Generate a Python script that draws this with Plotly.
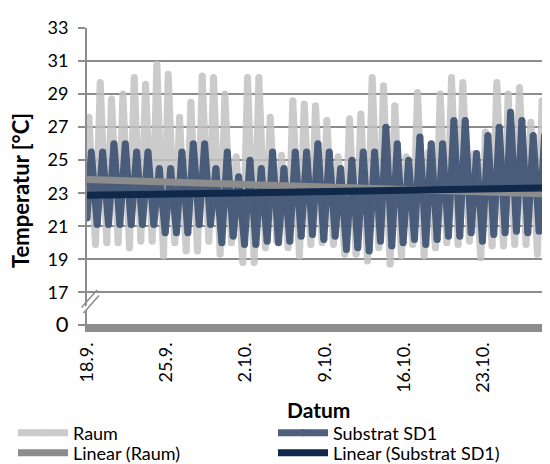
import plotly.graph_objects as go
import pandas as pd

# ---------------- data ----------------
start_date = "2013-09-18"
days = list(range(41))  # 18.9. ... 28.10.

# daily maxima / minima, one entry per day
raum_max = [27.6, 29.7, 28.7, 29.0, 30.0, 29.6, 30.8, 30.2, 27.6, 28.5,
            30.1, 30.0, 29.0, 25.2, 30.0, 30.0, 27.6, 25.3, 28.6, 28.4,
            28.3, 27.4, 25.2, 27.5, 27.8, 30.0, 29.5, 28.3, 25.2, 29.1,
            25.5, 29.0, 30.0, 29.7, 25.4, 26.7, 29.7, 29.0, 29.4, 27.3, 28.6]
raum_min = [19.9, 20.0, 20.0, 19.7, 20.1, 20.1, 19.2, 20.0, 19.5, 19.5,
            20.1, 19.3, 20.0, 18.8, 18.8, 19.7, 20.1, 19.7, 19.2, 19.9,
            20.0, 19.9, 19.3, 19.3, 18.9, 19.7, 18.7, 19.2, 19.9, 19.2,
            19.7, 20.0, 19.9, 20.1, 19.1, 19.8, 19.8, 19.9, 19.9, 19.3, 19.8]
sd1_max = [25.5, 25.5, 26.0, 26.0, 25.5, 25.5, 24.5, 24.5, 25.5, 26.0,
           26.0, 24.5, 25.5, 24.0, 25.0, 24.5, 25.5, 24.5, 25.5, 25.5,
           26.0, 25.5, 24.5, 25.0, 25.5, 25.5, 27.0, 26.0, 25.0, 26.4,
           26.0, 26.0, 27.4, 27.4, 25.4, 26.5, 27.0, 27.9, 27.4, 26.5, 26.5]
sd1_min = [21.1, 21.1, 21.1, 21.1, 21.1, 21.1, 20.6, 20.6, 20.6, 21.1,
           21.1, 20.0, 20.4, 19.9, 19.9, 20.1, 20.0, 20.1, 20.4, 20.5,
           20.2, 20.4, 19.6, 19.7, 19.5, 20.1, 19.8, 20.0, 20.2, 19.9,
           20.2, 20.4, 20.4, 20.6, 20.1, 20.5, 20.6, 20.7, 20.6, 20.7, 20.7]
raum_first = 27.5
sd1_first = 21.5

# time of day (hours) at which the daily extremes occur
raum_peak_hour, raum_low_hour = 4.0, 18.0
sd1_peak_hour, sd1_low_hour = 9.1, 21.6

# linear trend lines (values at the start / end of the visible period)
trend_dates = ["2013-09-18 00:00", "2013-10-28 20:38"]
raum_trend = [23.83, 22.95]
sd1_trend = [22.87, 23.32]

tick_dates = ["2013-09-18", "2013-09-25", "2013-10-02",
              "2013-10-09", "2013-10-16", "2013-10-23"]
tick_labels = ["18.9.", "25.9.", "2.10.", "9.10.", "16.10.", "23.10."]
y_tickvals = [15, 17, 19, 21, 23, 25, 27, 29, 31, 33]
y_ticklabels = ['<span style="font-size:22px">0</span>', "17", "19", "21",
                "23", "25", "27", "29", "31", "33"]


def build(first, highs, lows, hi_h, lo_h):
    t0 = pd.Timestamp(start_date)
    xs, ys = [t0], [first]
    for d, hi, lo in zip(days, highs, lows):
        day = t0 + pd.Timedelta(days=d)
        xs += [day + pd.Timedelta(hours=hi_h), day + pd.Timedelta(hours=lo_h)]
        ys += [hi, lo]
    return xs, ys


raum_x, raum_y = build(raum_first, raum_max, raum_min, raum_peak_hour, raum_low_hour)
sd1_x, sd1_y = build(sd1_first, sd1_max, sd1_min, sd1_peak_hour, sd1_low_hour)

# ---------------- figure ----------------
FONT = "Lato, 'Open Sans', sans-serif"
GRID = "#8c8c8c"
RAUM_C = "#c2c2c2"
SD1_C = "#3f5374"
RAUM_T = "#8c8c8c"
SD1_T = "#10284a"
LW = 7

# the page body has an 8px margin; the figure is sized to fill the rest
OFF = 8
W, H = 550 - OFF, 464 - OFF
ML, MR, MT, MB = 87 - OFF, 0, 28 - OFF, 132
PW, PH = W - ML - MR, H - MT - MB


def px(xp):  # page pixel -> paper x
    return (xp - OFF - ML) / PW


def py(yp):  # page pixel -> paper y
    return (H - MB - (yp - OFF)) / PH


fig = go.Figure()
fig.add_trace(go.Scatter(x=raum_x, y=raum_y, name="Raum", mode="lines+markers",
                         opacity=0.85,
                         line=dict(color=RAUM_C, width=LW, simplify=False),
                         marker=dict(color=RAUM_C, size=LW, line=dict(width=0)),
                         legend="legend"))
fig.add_trace(go.Scatter(x=sd1_x, y=sd1_y, name="Substrat SD1", mode="lines+markers",
                         opacity=0.92,
                         line=dict(color=SD1_C, width=LW, simplify=False),
                         marker=dict(color=SD1_C, size=LW, line=dict(width=0)),
                         legend="legend2"))
fig.add_trace(go.Scatter(x=trend_dates, y=raum_trend, name="Linear (Raum)", mode="lines",
                         line=dict(color=RAUM_T, width=7), legend="legend3"))
fig.add_trace(go.Scatter(x=trend_dates, y=sd1_trend, name="Linear (Substrat SD1)", mode="lines",
                         line=dict(color=SD1_T, width=7), legend="legend4"))

shapes = [
    # thick bar at the "0" level (bottom of the broken axis)
    dict(type="rect", xref="paper", yref="y", x0=0, x1=1, y0=14.6, y1=15.08,
         fillcolor=GRID, line=dict(width=0), layer="above"),
    # white gap of the axis break
    dict(type="path", xref="paper", yref="paper",
         path=f"M {px(82.5)} {py(310)} L {px(98)} {py(292.5)} L {px(98)} {py(297.5)} L {px(82.5)} {py(315)} Z",
         fillcolor="white", line=dict(width=0), layer="above"),
    dict(type="line", xref="paper", yref="paper", x0=px(81.5), y0=py(307.5), x1=px(97), y1=py(290),
         line=dict(color=GRID, width=1.5), layer="above"),
    dict(type="line", xref="paper", yref="paper", x0=px(83.5), y0=py(313), x1=px(99), y1=py(295.5),
         line=dict(color=GRID, width=1.5), layer="above"),
]

annotations = [
    dict(text="<b>Temperatur [°C]</b>", textangle=-90, xref="paper", yref="paper",
         x=px(21), y=py(191), xanchor="center", yanchor="middle", showarrow=False,
         font=dict(family=FONT, size=22, color="#000")),
    dict(text="<b>Datum</b>", xref="paper", yref="paper", x=px(318), y=py(409),
         xanchor="center", yanchor="middle", showarrow=False,
         font=dict(family=FONT, size=21, color="#000")),
]

leg_common = dict(xanchor="left", yanchor="middle", itemwidth=50,
                  font=dict(family=FONT, size=18, color="#000"),
                  bgcolor="rgba(0,0,0,0)", borderwidth=0)

fig.update_layout(
    width=W, height=H,
    margin=dict(l=ML, r=MR, t=MT, b=MB, pad=0, autoexpand=False),
    paper_bgcolor="white", plot_bgcolor="white",
    font=dict(family=FONT, size=18, color="#000"),
    showlegend=True,
    legend=dict(x=px(13), y=py(433), **leg_common),
    legend2=dict(x=px(273), y=py(433), **leg_common),
    legend3=dict(x=px(13), y=py(453), **leg_common),
    legend4=dict(x=px(273), y=py(453), **leg_common),
    xaxis=dict(type="date", range=["2013-09-18 00:00", "2013-10-28 20:38"],
               tickmode="array", tickvals=tick_dates, ticktext=tick_labels,
               tickangle=-90, showgrid=False, showline=False, ticks="",
               zeroline=False, tickfont=dict(family=FONT, size=18), ticklabelstandoff=6),
    yaxis=dict(range=[14.6, 33], tickmode="array", tickvals=y_tickvals, ticktext=y_ticklabels,
               showgrid=True, gridcolor=GRID, gridwidth=1.5, zeroline=False,
               showline=True, linecolor=GRID, linewidth=2,
               ticks="outside", ticklen=7, tickcolor=GRID, tickwidth=1.5,
               tickfont=dict(family=FONT, size=18), ticklabelstandoff=6),
    shapes=shapes, annotations=annotations,
)

fig.write_html("out.html")
